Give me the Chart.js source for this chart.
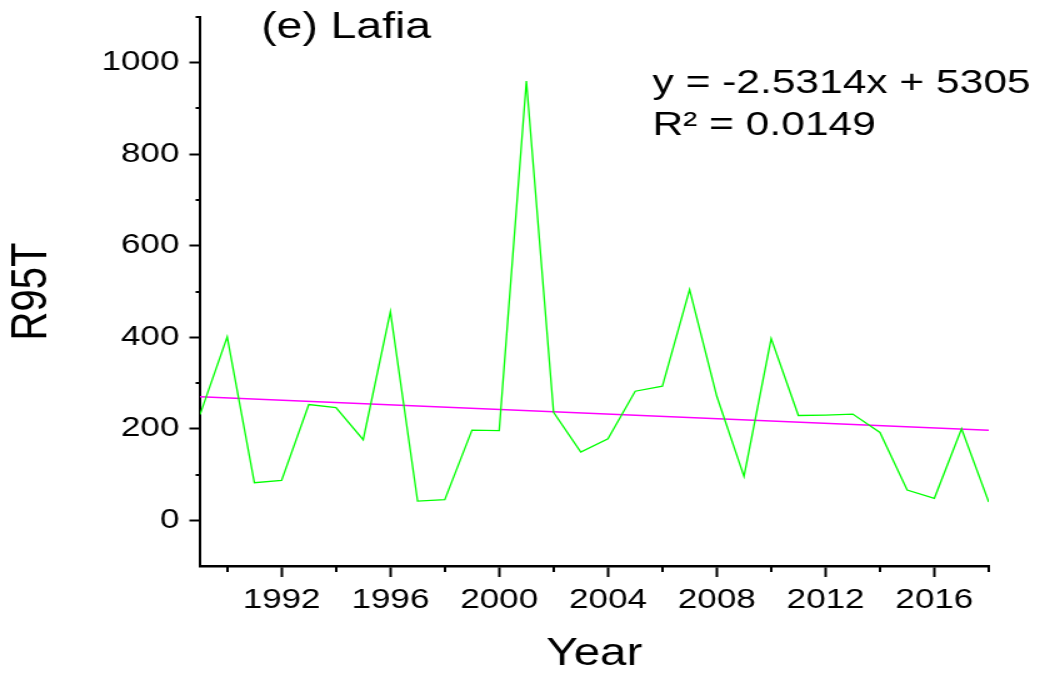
<!DOCTYPE html>
<html>
<head>
<meta charset="utf-8">
<title>R95T - Lafia</title>
<script src="https://cdn.jsdelivr.net/npm/chart.js@4.4.1/dist/chart.umd.min.js"></script>
<style>
  html, body { margin: 0; padding: 0; background: #fff; overflow: hidden; }
  /* the figure is drawn narrow and widened, like the original plot export */
  #wrap { width: 832px; height: 677px; transform: scaleX(1.25); transform-origin: 0 0; }
  canvas { display: block; }
</style>
</head>
<body>
<div id="wrap"><canvas id="chart" width="832" height="677"></canvas></div>
<script>
// --- Data ---
const years = [1989, 1990, 1991, 1992, 1993, 1994, 1995, 1996, 1997, 1998,
               1999, 2000, 2001, 2002, 2003, 2004, 2005, 2006, 2007, 2008,
               2009, 2010, 2011, 2012, 2013, 2014, 2015, 2016, 2017, 2018];
const r95t = [231, 401, 82, 87, 253, 246, 176, 456, 42, 45,
              197, 196, 960, 236, 149, 178, 282, 293, 504, 271,
              96, 397, 229, 230, 232, 192, 66, 48, 200, 40];

// linear fit printed on the plot
const slope = -2.5314;
const intercept = 5305;
const trendYears = [1989, 2018];

const xTicks = [1992, 1996, 2000, 2004, 2008, 2012, 2016];
const xMinorTicks = [1990, 1994, 1998, 2002, 2006, 2010, 2014, 2018];
const yTicks = [0, 200, 400, 600, 800, 1000];
const yMinorTicks = [100, 300, 500, 700, 900, 1100];

const FONT = "'Liberation Sans', Arial, sans-serif";

// --- Extra drawing: minor ticks and the text labels ---
const decorations = {
    id: 'decorations',
    afterDraw(chart) {
        const ctx = chart.ctx;
        const area = chart.chartArea;
        const xs = chart.scales.x;
        const ys = chart.scales.y;

        ctx.save();
        ctx.strokeStyle = '#000';
        ctx.lineWidth = 2;
        ctx.beginPath();
        xMinorTicks.forEach(v => {
            const px = Math.round(xs.getPixelForValue(v));
            ctx.moveTo(px, area.bottom);
            ctx.lineTo(px, area.bottom + 6);
        });
        yMinorTicks.forEach(v => {
            const py = Math.round(ys.getPixelForValue(v));
            ctx.moveTo(area.left, py);
            ctx.lineTo(area.left - 3.5, py);
        });
        ctx.stroke();

        ctx.fillStyle = '#000';
        ctx.textAlign = 'left';
        ctx.textBaseline = 'alphabetic';
        ctx.font = '37px ' + FONT;
        ctx.fillText('(e) Lafia', 209, 38);

        ctx.font = '34px ' + FONT;
        ctx.fillText('y = -2.5314x + 5305', 522, 93);
        ctx.fillText('R\u00B2 = 0.0149', 522, 135);
        ctx.restore();
    }
};

const ctx = document.getElementById('chart');

new Chart(ctx, {
    type: 'line',
    data: {
        datasets: [
            {
                label: 'R95T',
                data: years.map((y, i) => ({ x: y, y: r95t[i] })),
                borderColor: '#00ff00',
                borderWidth: 1.3,
                pointRadius: 0,
                tension: 0
            },
            {
                label: 'Linear fit',
                data: trendYears.map(y => ({ x: y, y: slope * y + intercept })),
                borderColor: '#ff00ff',
                borderWidth: 1.4,
                pointRadius: 0,
                tension: 0
            }
        ]
    },
    options: {
        responsive: false,
        animation: false,
        devicePixelRatio: 1,
        layout: { padding: { top: 17, right: 41, left: 0, bottom: 0 } },
        plugins: {
            legend: { display: false },
            tooltip: { enabled: false }
        },
        scales: {
            x: {
                type: 'linear',
                min: 1989,
                max: 2018,
                afterBuildTicks: scale => { scale.ticks = xTicks.map(v => ({ value: v })); },
                afterFit: scale => { scale.height = 111; },
                border: { display: true, color: '#000', width: 2.4 },
                grid: { drawOnChartArea: false, drawTicks: true, tickLength: 11, tickColor: '#000', tickWidth: 2 },
                ticks: {
                    autoSkip: false,
                    maxRotation: 0,
                    padding: 6,
                    color: '#000',
                    font: { family: FONT, size: 28 },
                    callback: v => String(v)
                },
                title: {
                    display: true,
                    text: 'Year',
                    color: '#000',
                    font: { family: FONT, size: 38, lineHeight: 1.2 },
                    padding: { top: 0, bottom: 0 }
                }
            },
            y: {
                type: 'linear',
                min: -100,
                max: 1100,
                afterBuildTicks: scale => { scale.ticks = yTicks.map(v => ({ value: v })); },
                afterFit: scale => {
                    scale.width = 160;
                    // keep the plot top fixed instead of reserving room for labels
                    scale.paddingTop = 0;
                    scale.paddingBottom = 0;
                },
                border: { display: true, color: '#000', width: 2 },
                grid: { drawOnChartArea: false, drawTicks: true, tickLength: 8.5, tickColor: '#000', tickWidth: 2 },
                ticks: {
                    padding: 8,
                    color: '#000',
                    font: { family: FONT, size: 28 },
                    callback: v => String(v)
                },
                title: {
                    display: true,
                    text: 'R95T',
                    color: '#000',
                    font: { family: FONT, size: 40, lineHeight: 1.2 },
                    padding: { top: 2, bottom: 0 }
                }
            }
        }
    },
    plugins: [decorations]
});
</script>
</body>
</html>
